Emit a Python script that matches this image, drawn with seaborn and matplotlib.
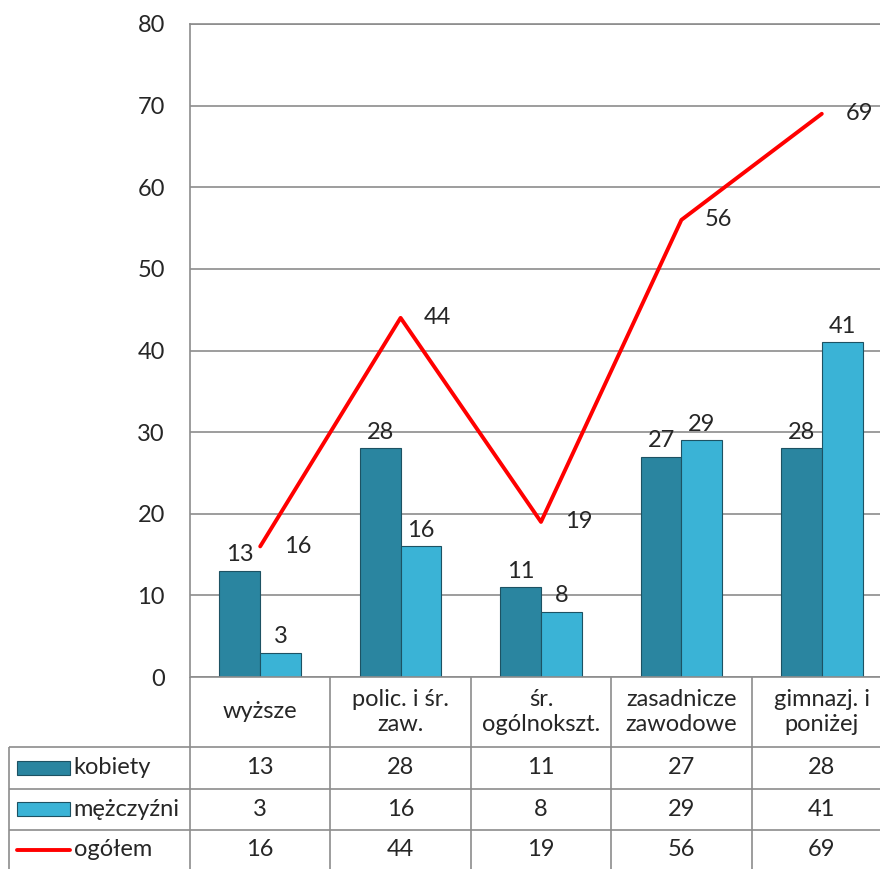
import numpy as np
import pandas as pd
import seaborn as sns
import matplotlib.pyplot as plt
from matplotlib.patches import Rectangle

# Data
categories = ['wyższe', 'polic. i śr.\nzaw.', 'śr.\nogólnokszt.', 'zasadnicze\nzawodowe', 'gimnazj. i\nponiżej']
kobiety = [13, 28, 11, 27, 28]
mezczyzni = [3, 16, 8, 29, 41]
ogolem = [16, 44, 19, 56, 69]
series_names = ['kobiety', 'mężczyźni', 'ogółem']
y_ticks = [0, 10, 20, 30, 40, 50, 60, 70, 80]

sns.set_theme(style='white')
plt.rcParams['font.family'] = ['Lato', 'DejaVu Sans']

bar_colors = ['#2a85a0', '#3ab3d6']
line_color = '#ff0000'
grid_color = '#8c8c8c'
fs = 17

df = pd.DataFrame({
    'kat': categories * 2,
    'grupa': [series_names[0]] * len(categories) + [series_names[1]] * len(categories),
    'wartosc': kobiety + mezczyzni,
})

fig = plt.figure(figsize=(8.8, 8.69), dpi=100)
ax = fig.add_axes([190 / 880, 192 / 869, 702 / 880, 653 / 869])

sns.barplot(data=df, x='kat', y='wartosc', hue='grupa', palette=bar_colors, saturation=1,
            width=0.58, gap=0, errorbar=None, edgecolor='#1d5263', linewidth=0.8,
            legend=False, ax=ax, zorder=3)
for cont in ax.containers:
    ax.bar_label(cont, padding=4, fontsize=fs)

pos = np.arange(len(categories))
sns.lineplot(x=pos, y=ogolem, color=line_color, linewidth=2.8, ax=ax, zorder=4)
for i, v in enumerate(ogolem):
    ax.annotate(str(v), (pos[i], v), xytext=(17, 0), textcoords='offset points',
                ha='left', va='center', fontsize=fs)

ax.set_xlim(-0.5, len(categories) - 0.5)
ax.set_ylim(0, 80)
ax.set_yticks(y_ticks)
ax.yaxis.grid(True, color=grid_color, linewidth=1.2)
ax.set_axisbelow(True)
ax.set_xticks([])
ax.set_xlabel('')
ax.set_ylabel('')
ax.tick_params(axis='y', length=0, pad=18, labelsize=fs)
for s in ['right', 'bottom']:
    ax.spines[s].set_visible(False)
for s in ['left', 'top']:
    ax.spines[s].set_color(grid_color)
    ax.spines[s].set_linewidth(1.2)

# Data table below the chart
tab = fig.add_axes([190 / 880, 0, 702 / 880, 192 / 869])
tab.set_xlim(-0.5, len(categories) - 0.5)
tab.set_ylim(0, 192)
tab.axis('off')

px = 1 / 140
x_left = -0.5 - 180 * px
row_lines = [122, 80, 39]
row_centers = [101, 60, 19]
lk = dict(color=grid_color, linewidth=1.2, clip_on=False)

tab.hlines(192, -0.5, len(categories) - 0.5, **lk)
tab.hlines(row_lines, x_left, len(categories) - 0.5, **lk)
tab.vlines(np.arange(len(categories) + 1) - 0.5, 0, 192, **lk)
tab.vlines(x_left, 0, 122, **lk)

for i, c in enumerate(categories):
    tab.text(i, 157, c, ha='center', va='center', fontsize=fs, linespacing=1.25)

for vals, yc in zip([kobiety, mezczyzni, ogolem], row_centers):
    for i, v in enumerate(vals):
        tab.text(i, yc, str(v), ha='center', va='center', fontsize=fs)

for k, (name, yc) in enumerate(zip(series_names, row_centers)):
    if k < 2:
        tab.add_patch(Rectangle((x_left + 7 * px, yc - 7), 53 * px, 14,
                                facecolor=bar_colors[k], edgecolor='#1d5263',
                                linewidth=0.8, clip_on=False))
    else:
        tab.plot([x_left + 7 * px, x_left + 60 * px], [yc, yc], color=line_color,
                 linewidth=2.8, clip_on=False)
    tab.text(x_left + 64 * px, yc, name, ha='left', va='center', fontsize=fs)

fig.savefig('out.png', dpi=100)
